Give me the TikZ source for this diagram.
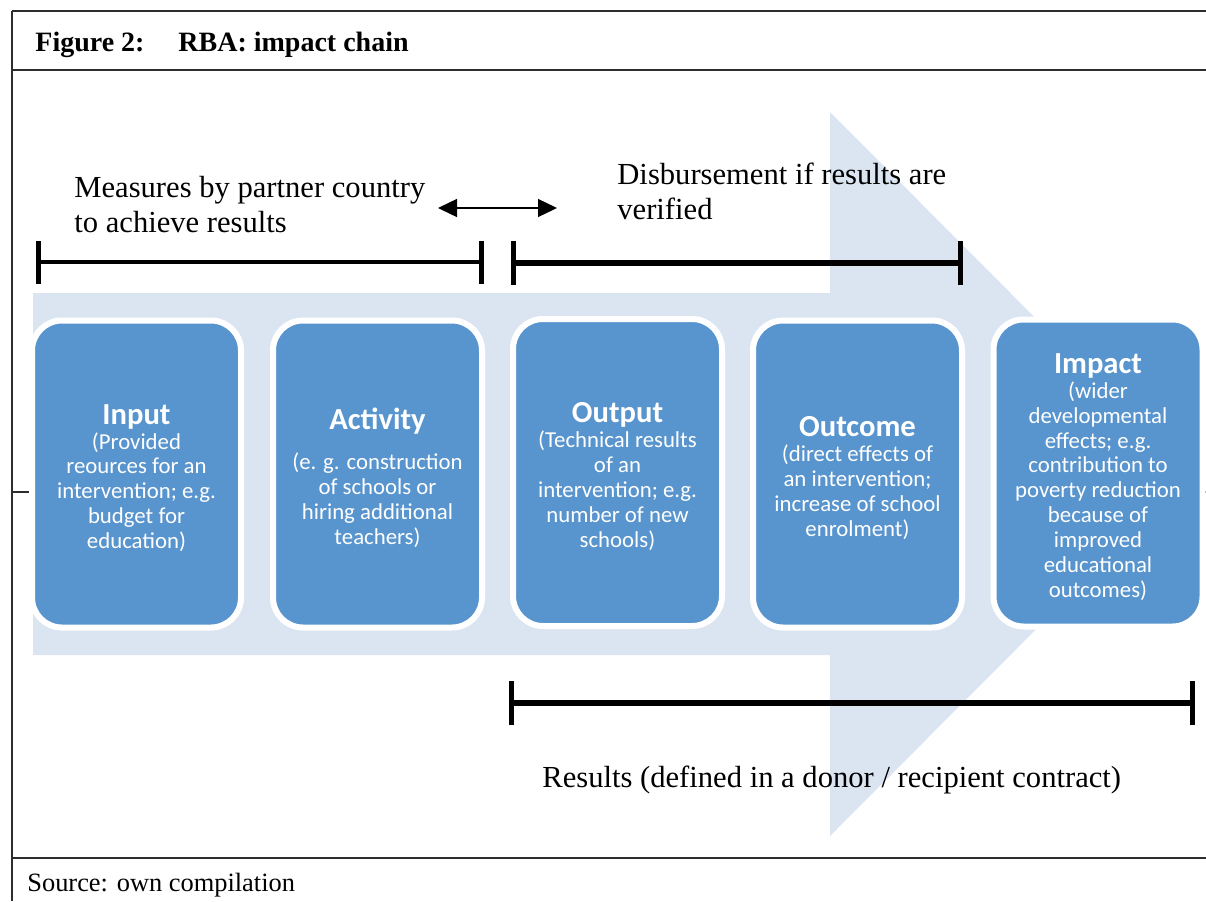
\documentclass[tikz,border=0pt]{standalone}
\usepackage{fontspec}
\setmainfont{Liberation Serif}
\newfontfamily\carl{Carlito}
\usetikzlibrary{arrows.meta}
\definecolor{boxblue}{RGB}{88,148,205}
\definecolor{arrowblue}{RGB}{219,229,242}
\definecolor{framecol}{RGB}{45,45,45}
\tikzset{
  stepbox/.style={rounded corners=15pt, fill=boxblue, draw=white, line width=3pt,
    minimum width=104.5pt, minimum height=153.5pt, inner sep=0pt},
  boxtext/.style={inner sep=0pt, align=center, text=white, yshift=-2pt,
    font=\carl\fontsize{11.4}{12.45}\selectfont},
  lbl/.style={inner sep=0pt, anchor=base west, align=left, font=\fontsize{15.3}{17.5}\selectfont},
  frameline/.style={draw=framecol, line width=0.8pt},
  spanthin/.style={line width=2pt, {Bar[width=21.5pt,line width=2.3pt]}-{Bar[width=21.5pt,line width=2.3pt]}},
  spanthick/.style={line width=2.8pt, {Bar[width=22pt,line width=2.6pt]}-{Bar[width=22pt,line width=2.6pt]}},
  dblarrow/.style={line width=0.7pt, {Triangle[length=9.5pt,width=9pt]}-{Triangle[length=9.5pt,width=9pt]}}
}
\newcommand{\bt}[1]{{\fontsize{15.3}{12.45}\selectfont\bfseries #1}}
\begin{document}
\begin{tikzpicture}[x=0.5pt,y=-0.5pt]
\useasboundingbox (0,0) rectangle (1206,901);
% frame
\draw[frameline] (12,11) -- (1206,11);
\draw[frameline] (12,70) -- (1206,70);
\draw[frameline] (12,858) -- (1206,858);
\draw[frameline] (12,11) -- (12,901);
\draw[frameline] (12,492) -- (30,492);
\draw[frameline] (1203,492) -- (1206,492);
% title and source
\node[inner sep=0pt, anchor=base west, font=\bfseries\fontsize{14}{16}\selectfont] (fignum) at (35,51) {Figure 2:};
\node[inner sep=0pt, anchor=base west, font=\bfseries\fontsize{14}{16}\selectfont] (figttl) at (178,51) {RBA: impact chain};
\node[inner sep=0pt, anchor=base west, font=\fontsize{13.2}{16}\selectfont] (src) at (27,891) {Source: own compilation};
% big arrow
\fill[arrowblue] (33,293) -- (830,293) -- (830,112) -- (1191,474) -- (830,836) -- (830,655) -- (33,655) -- cycle;
% boxes
\node[stepbox] (input) at (136.5,474) {};
\node[stepbox] (activity) at (377.5,474) {};
\node[stepbox] (output) at (617.5,472.5) {};
\node[stepbox] (outcome) at (857.5,474) {};
\node[stepbox] (impact) at (1098,473) {};
\node[boxtext] (inputtxt) at (input.center) {\bt{Input}\\(Provided\\reources for an\\intervention; e.g.\\budget for\\education)};
\node[boxtext] (activitytxt) at (activity.center) {\bt{Activity}\\[7.5pt](e. g. construction\\of schools or\\hiring additional\\teachers)};
\node[boxtext] (outputtxt) at (output.center) {\bt{Output}\\(Technical results\\of an\\intervention; e.g.\\number of new\\schools)};
\node[boxtext] (outcometxt) at (outcome.center) {\bt{Outcome}\\(direct effects of\\an intervention;\\increase of school\\enrolment)};
\node[boxtext] (impacttxt) at (impact.center) {\bt{Impact}\\(wider\\developmental\\effects; e.g.\\contribution to\\poverty reduction\\because of\\improved\\educational\\outcomes)};
% labels
\node[lbl] (measures) at (74,232) {Measures by partner country\\to achieve results};
\node[lbl] (disb) at (617,219) {Disbursement if results are\\verified};
\node[lbl] (results) at (542,787) {Results (defined in a donor / recipient contract)};
% spans
\coordinate (mL) at (36,262);
\coordinate (mR) at (484,262);
\coordinate (dL) at (511,263);
\coordinate (dR) at (963,263);
\coordinate (rL) at (509,703);
\coordinate (rR) at (1195,703);
\coordinate (aL) at (438,208);
\coordinate (aR) at (557,208);
\draw[spanthin] (mL) -- (mR);
\draw[spanthick] (dL) -- (dR);
\draw[spanthick] (rL) -- (rR);
\draw[dblarrow] (aL) -- (aR);
\end{tikzpicture}
\end{document}
